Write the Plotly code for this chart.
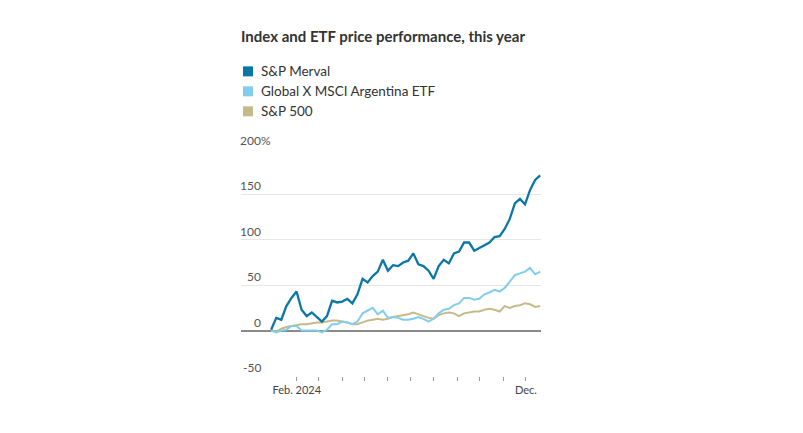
import pandas as pd
import plotly.graph_objects as go

# weekly-ish closes, % change since start of year
dates = pd.date_range("2023-12-29", "2024-12-20", periods=54)

merval = [1, 14, 12, 27, 36, 43, 23, 16, 20, 15, 10, 16, 33, 31, 32, 35, 30, 40,
          57, 53, 60, 65, 78, 66, 72, 71, 75, 77, 85, 73, 71, 66, 57, 71, 78, 74,
          85, 87, 97, 97, 88, 91, 94, 97, 103, 104, 112, 123, 140, 145, 139, 155,
          166, 171]
etf = [0, -2, 0, 1, 5, 5, 0, 0, 0, 0, -2, 1, 7, 7, 10, 9, 7, 10,
       19, 22, 25, 18, 22, 14, 15, 14, 12, 12, 13, 15, 13, 10, 13, 19, 23, 24,
       28, 30, 36, 36, 34, 35, 40, 42, 45, 43, 47, 54, 61, 63, 65, 69,
       62, 65]
sp500 = [0, -1, 2, 4, 5, 6, 7, 7, 8, 9, 9, 10, 11, 11, 10, 9, 7, 7,
         9, 11, 12, 13, 12, 13, 15, 16, 17, 18, 20, 18, 16, 14, 13, 17, 19, 20,
         19, 16, 19, 20, 21, 21, 23, 24, 23, 21, 27, 25, 27, 28, 30, 29,
         26, 27]

names = ["S&P Merval", "Global X MSCI Argentina ETF", "S&P 500"]
colors = ["#0b77a6", "#83cdec", "#c6b98a"]

y_ticks = [-50, 0, 50, 100, 150, 200]
y_labels = ["-50", "0", "50", "100", "150", "200"]

x_ticks = pd.date_range("2024-02-01", "2024-12-01", freq="MS")
x_labels = ["Feb. 2024"] + [""] * 9 + ["Dec."]

FONT = "Lato"

fig = go.Figure()
series = [merval, etf, sp500]
widths = [2.3, 2, 2]
for i in [2, 1, 0]:
    fig.add_trace(go.Scatter(x=dates, y=series[i], mode="lines", name=names[i],
                             line=dict(color=colors[i], width=widths[i]),
                             showlegend=False, hoverinfo="skip"))

# legend: squares + labels
rows = [1.342, 1.254, 1.166]
for name, c, ry in zip(names, colors, rows):
    fig.add_shape(type="rect", xref="paper", yref="paper",
                  xsizemode="pixel", ysizemode="pixel",
                  xanchor=0, yanchor=ry, x0=2, x1=12, y0=-5, y1=5,
                  fillcolor=c, line_width=0)
    fig.add_annotation(text=name, xref="paper", yref="paper", x=0, y=ry,
                       xshift=18, xanchor="left", yanchor="middle",
                       showarrow=False, font=dict(family=FONT, size=13.5, color="#333"))

# y tick labels sitting above the gridlines
for v, lab in zip(y_ticks, y_labels):
    fig.add_annotation(text=lab, xref="paper", yref="y", x=0, y=v,
                       xshift=22, xanchor="right", yanchor="bottom", yshift=-1,
                       showarrow=False, font=dict(family=FONT, size=12, color="#555"))
fig.add_annotation(text="%", xref="paper", yref="y", x=0, y=y_ticks[-1],
                   xshift=17.5, xanchor="left", yanchor="bottom", yshift=-1,
                   showarrow=False, font=dict(family=FONT, size=12, color="#555"))

fig.update_layout(
    width=803, height=433,
    margin=dict(l=233, r=270, t=141, b=65),
    paper_bgcolor="white", plot_bgcolor="white",
    title=dict(text="<b>Index and ETF price performance, this year</b>",
               x=233 / 803, xanchor="left", xref="container",
               y=1 - 29 / 433, yanchor="middle",
               font=dict(family=FONT, size=15, color="#333")),
    xaxis=dict(range=["2023-11-19", "2024-12-21"], tickvals=x_ticks, ticktext=x_labels,
               showgrid=False, zeroline=False, showline=False,
               ticks="outside", ticklen=4, tickcolor="#999", tickwidth=1,
               tickfont=dict(family=FONT, size=11, color="#444")),
    yaxis=dict(range=[-50, 200], tickvals=y_ticks, showticklabels=False,
               showgrid=True, gridcolor="#e6e6e6", gridwidth=1,
               zeroline=True, zerolinecolor="#8a8a8a", zerolinewidth=2,
               showline=False, ticks=""),
)

fig.write_html("out.html")
